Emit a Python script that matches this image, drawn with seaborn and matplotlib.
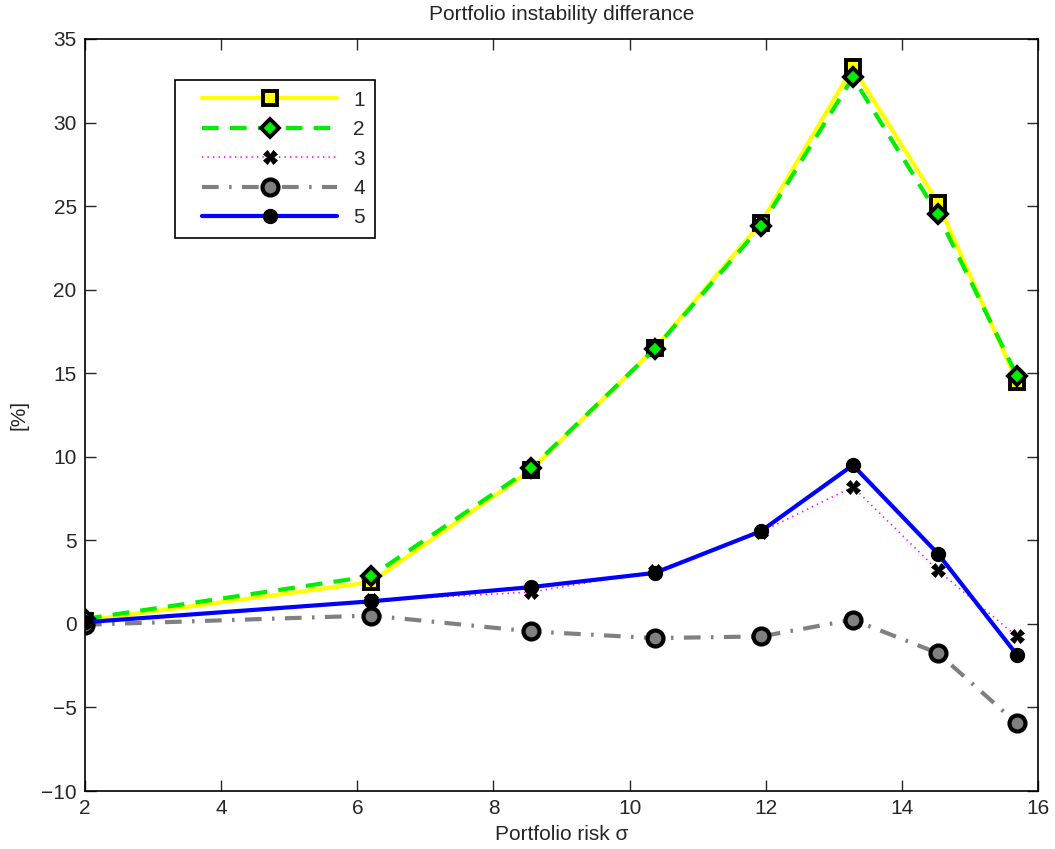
import numpy as np
import pandas as pd
import matplotlib
matplotlib.use("Agg")
import matplotlib.pyplot as plt
import seaborn as sns
from matplotlib.lines import Line2D
from matplotlib.legend_handler import HandlerLine2D

# portfolio risk (x) and the five instability series
risk = [2.0, 6.2, 8.55, 10.37, 11.93, 13.28, 14.53, 15.69]
s1 = [0.2, 2.5, 9.2, 16.5, 24.0, 33.3, 25.2, 14.5]
s2 = [0.3, 2.85, 9.3, 16.45, 23.8, 32.7, 24.5, 14.85]
s3 = [0.1, 1.4, 1.9, 3.15, 5.5, 8.2, 3.2, -0.75]
s4 = [-0.05, 0.5, -0.45, -0.85, -0.75, 0.25, -1.75, -5.95]
s5 = [0.1, 1.35, 2.2, 3.05, 5.55, 9.5, 4.2, -1.85]
labels = ["1", "2", "3", "4", "5"]

FS = 15

sns.set_style("ticks")
plt.rcParams["font.family"] = ["Liberation Sans", "DejaVu Sans"]
plt.rcParams["font.size"] = FS

df = pd.DataFrame({"risk": risk, "1": s1, "2": s2, "3": s3, "4": s4, "5": s5})

# MATLAB-like styles per series
styles = {
    "1": dict(color="#ffff00", ls="-", lw=3, marker="s", ms=9.5, mfc="#ffff00", mec="black", mew=2.8),
    "2": dict(color="#00ee00", ls=(0, (4, 2.7)), lw=3, marker="D", ms=9.5, mfc="#00ee00", mec="black", mew=2.8),
    "3": dict(color="#ff00ff", ls=(0, (0.8, 2.5)), lw=1.2, marker="X", ms=9.5, mfc="black", mec="black", mew=0.5),
    "4": dict(color="#808080", ls=(0, (4, 2.5, 0.6, 2.5)), lw=3, marker="o", ms=11.5, mfc="#808080", mec="black", mew=3),
    "5": dict(color="#0000ff", ls="-", lw=3, marker="o", ms=10, mfc="black", mec="black", mew=1),
}

fig = plt.figure(figsize=(10.55, 8.49), dpi=100)
ax = fig.add_axes([0.0806, 0.0683, 0.9033, 0.8858])

for lab in labels:
    st = styles[lab]
    sns.lineplot(x="risk", y=lab, data=df, ax=ax, label=lab, sort=False,
                 linestyle=st["ls"], color=st["color"], linewidth=st["lw"],
                 marker=st["marker"], markersize=st["ms"],
                 markerfacecolor=st["mfc"], markeredgecolor=st["mec"],
                 markeredgewidth=st["mew"])

ax.set_xlim(2, 16)
ax.set_ylim(-10, 35)
ax.set_xticks(np.arange(2, 17, 2))
ax.set_yticks(np.arange(-10, 36, 5))
ax.tick_params(direction="in", length=8, width=1, top=True, right=True,
               labelsize=FS, pad=6)
for sp in ax.spines.values():
    sp.set_visible(True)
    sp.set_linewidth(1.2)
    sp.set_color("black")

ax.set_title("Portfolio instability differance", fontsize=FS, pad=14)
ax.set_xlabel("Portfolio risk σ", fontsize=FS, labelpad=5)
ax.set_ylabel("[%]", fontsize=FS, labelpad=9)

# matlab legends leave a gap before the sample line
leg = ax.legend(loc="upper left", bbox_to_anchor=(0.094, 0.945), borderaxespad=0,
                numpoints=1, handlelength=7.3, handletextpad=0.77,
                labelspacing=0.5, fontsize=FS, fancybox=False,
                edgecolor="black", framealpha=1, borderpad=0.5,
                handler_map={Line2D: HandlerLine2D(xpad=0.82)})
leg.get_frame().set_linewidth(1.2)

fig.savefig("out.png", dpi=100)
